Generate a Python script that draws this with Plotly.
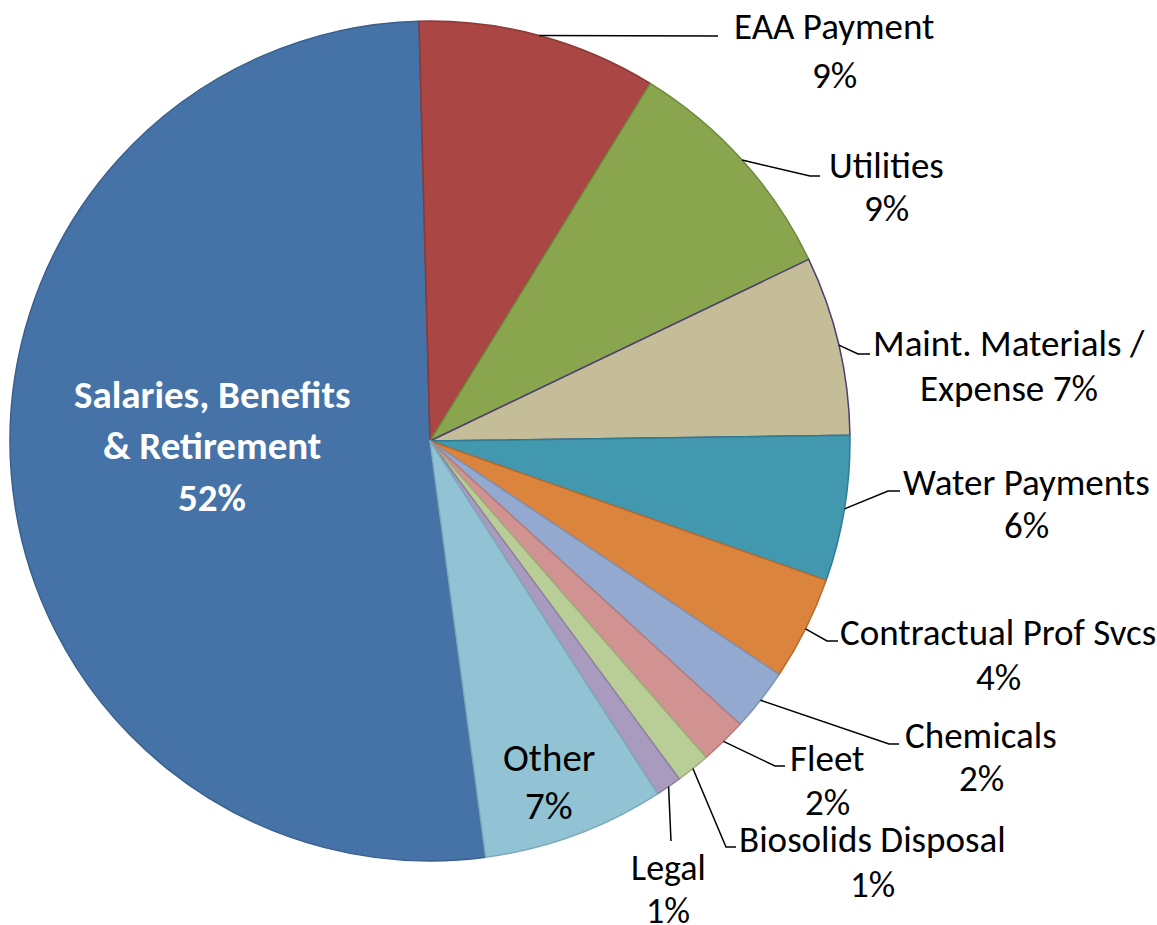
import math
import plotly.graph_objects as go

W, H = 1157, 925

# ---- data ----
categories = ["Salaries, Benefits & Retirement", "EAA Payment", "Utilities",
              "Maint. Materials / Expense", "Water Payments", "Contractual Prof Svcs",
              "Chemicals", "Fleet", "Biosolids Disposal", "Legal", "Other"]
shares = [51.7, 9.2, 9.1, 6.9, 5.6, 4.0, 2.4, 1.8, 1.3, 1.0, 7.0]
label_fmt = ["Salaries, Benefits<br>& Retirement<br>{p}%", "EAA Payment<br>{p}%",
             "Utilities<br>{p}%", "Maint. Materials /<br>Expense {p}%",
             "Water Payments<br>{p}%", "Contractual Prof Svcs<br>{p}%",
             "Chemicals<br>{p}%", "Fleet<br>{p}%", "Biosolids Disposal<br>{p}%",
             "Legal<br>{p}%", "Other<br>{p}%"]

# ---- style ----
fill_colors = ["#4673A7", "#AA4643", "#89A54E", "#C4BD97", "#4198AF", "#DB843D",
               "#93A9CF", "#D19392", "#B9CD96", "#A99BBD", "#92C3D4"]
edge_colors = ["#3A5F8C", "#8C3836", "#6F8A3C", "#4E3D70", "#2F7D93", "#B86A2C",
               "#7F93B5", "#B47B7A", "#9CB07C", "#8E82A3", "#7DAABA"]

CX, CY, R = 430, 441, 420
EAA_START_DEG = -1.5  # where the second slice begins (clockwise from 12 o'clock)

# label placement: x centre, y of first line, line spacing (pixels)
label_pos = [(212, 394, 51.5), (834, 26, 49), (886, 165, 43), (1009, 343, 45),
             (1026, 482, 43), (998, 632, 45), (981, 735, 43), (827, 758, 44),
             (872, 839, 45), (668, 868, 43), (549, 757, 48)]
label_size = [39, 37, 37, 37, 37, 37, 37, 37, 37, 36, 39]
leader_pts = [None, [(718, 36)], [(810, 176), (820, 176)], [(858, 354), (870, 354)],
              [(888, 491), (900, 491)], [(827, 641), (838, 641)],
              [(889, 744), (899, 744)], [(775, 766), (785, 766)],
              [(726, 847), (736, 847)], [(671, 841)], None]
text_colors = ["white"] + ["black"] * 10
text_bold = [True] + [False] * 10

FONT = "Carlito, Calibri, Lato, sans-serif"

total = sum(shares)
start0 = EAA_START_DEG - 360.0 * shares[0] / total
rotation = ((start0 + 180) % 360) - 180

fig = go.Figure()
fig.add_trace(go.Pie(
    labels=categories, values=shares, sort=False, direction="clockwise",
    rotation=rotation, textinfo="none", showlegend=False,
    marker=dict(colors=fill_colors, line=dict(color=edge_colors, width=1.5)),
    domain=dict(x=[(CX - R) / W, (CX + R) / W], y=[1 - (CY + R) / H, 1 - (CY - R) / H]),
))

shapes = []
annotations = []
cum = 0.0
for i, v in enumerate(shares):
    mid = math.radians(start0 + 360.0 * (cum + v / 2) / total)
    cum += v
    pct = round(100 * v / total)
    lines = label_fmt[i].format(p=pct).split("<br>")
    lx, ly, sp = label_pos[i]
    for k, ln in enumerate(lines):
        txt = f"<b>{ln}</b>" if text_bold[i] else ln
        annotations.append(dict(
            x=lx, y=ly + k * sp, xref="x", yref="y", text=txt,
            showarrow=False, xanchor="center", yanchor="middle", align="center",
            font=dict(family=FONT, size=label_size[i], color=text_colors[i])))
    if leader_pts[i]:
        ex, ey = CX + R * math.sin(mid), CY - R * math.cos(mid)
        pts = [(ex, ey)] + leader_pts[i]
        path = "M " + " L ".join(f"{x:.1f},{y:.1f}" for x, y in pts)
        shapes.append(dict(type="path", path=path, xref="x", yref="y",
                           line=dict(color="black", width=1.5)))

fig.update_layout(
    width=W, height=H, margin=dict(l=0, r=0, t=0, b=0),
    paper_bgcolor="white", plot_bgcolor="rgba(0,0,0,0)",
    xaxis=dict(range=[0, W], visible=False, fixedrange=True),
    yaxis=dict(range=[H, 0], visible=False, fixedrange=True),
    shapes=shapes, annotations=annotations,
)

fig.write_html("out.html")
